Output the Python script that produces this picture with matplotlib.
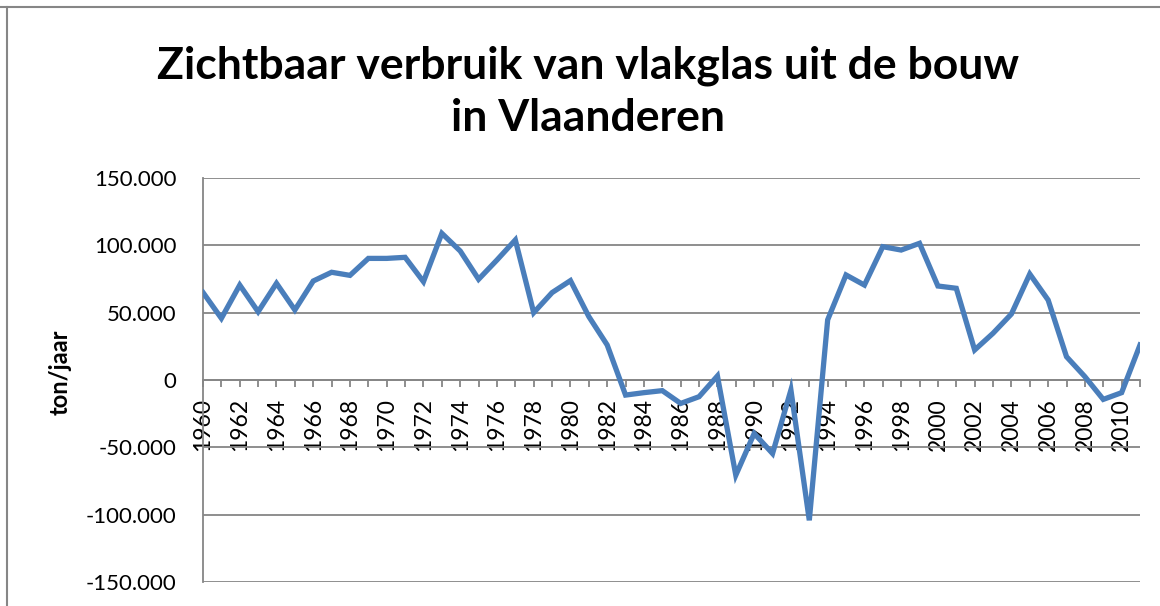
import matplotlib
matplotlib.use("Agg")
import matplotlib.pyplot as plt
from matplotlib.ticker import FuncFormatter
from matplotlib.lines import Line2D

years = list(range(1960, 2012))
values = [65000, 45800, 70500, 50700, 71800, 52000, 73500, 80000, 77700, 90300,
          90300, 91100, 73000, 108900, 95800, 74800, 89100, 104000, 50000, 64900,
          73800, 47100, 26000, -11200, -9400, -7900, -17400, -12400, 3000, -70700,
          -39700, -54600, -7400, -104200, 44700, 78000, 70500, 99000, 96500, 101500,
          69800, 68100, 22300, 34700, 49000, 78700, 59400, 17300, 2500, -14400,
          -9400, 26000]
yticks = [-150000, -100000, -50000, 0, 50000, 100000, 150000]
title = "Zichtbaar verbruik van vlakglas uit de bouw\nin Vlaanderen"
ylabel = "ton/jaar"

fig = plt.figure(figsize=(11.6, 6.06), dpi=100)
ax = fig.add_axes([203/1160, 1-582/606, (1140-203)/1160, (582-178)/606])

grid_c = "#868686"
for s in ["top", "right"]:
    ax.spines[s].set_visible(False)
ax.spines["bottom"].set_position(("data", 0))
for s in ["bottom", "left"]:
    ax.spines[s].set_color(grid_c)
    ax.spines[s].set_linewidth(1.3)

ax.plot(years, values, color="#4A7EBB", lw=3.8, solid_joinstyle="miter", zorder=3)
ax.set_xlim(1960, 2011)
ax.set_ylim(-150000, 150000)
ax.set_yticks(yticks)
ax.yaxis.set_major_formatter(FuncFormatter(lambda v, p: f"{int(v):,}".replace(",", ".")))
ax.grid(axis="y", color=grid_c, lw=1.3)
ax.set_axisbelow(True)

ax.set_xticks(years)
ax.set_xticklabels([str(y) if y % 2 == 0 else "" for y in years])
ax.tick_params(axis="x", direction="out", length=5, width=1.3, color=grid_c, pad=8,
               labelrotation=90, labelsize=16.5)
ax.tick_params(axis="y", length=0, pad=19, labelsize=16)
for lab in ax.get_xticklabels() + ax.get_yticklabels():
    lab.set_family("Lato")

fig.text(60/1160, 1-372/606, ylabel, rotation=90, ha="center", va="center",
         fontsize=17, fontweight="bold", family="Lato")
fig.text(588/1160, 1-92/606, title, ha="center", va="center", fontsize=32,
         fontweight="bold", family="Lato", linespacing=1.36)

fig.add_artist(Line2D([0, 1], [1-7/606, 1-7/606], color=grid_c, lw=1.5, transform=fig.transFigure))
fig.add_artist(Line2D([7/1160, 7/1160], [0, 1-7/606], color=grid_c, lw=1.5, transform=fig.transFigure))

fig.savefig("out.png", dpi=100)
